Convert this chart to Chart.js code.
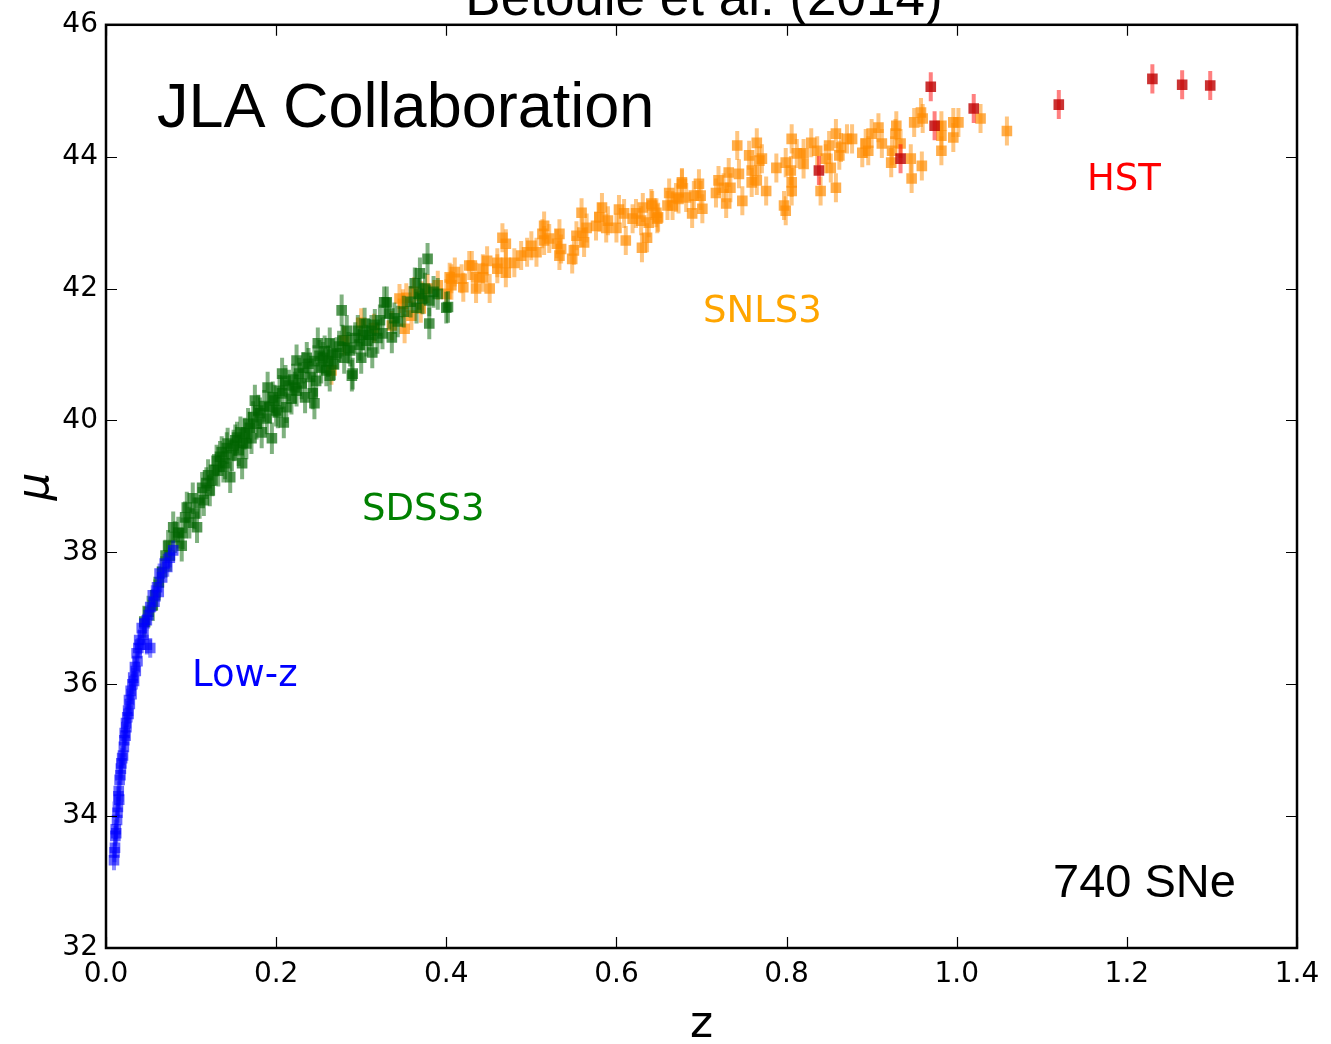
<!DOCTYPE html>
<html>
<head>
<meta charset="utf-8">
<title>JLA Hubble diagram</title>
<script src="https://cdn.jsdelivr.net/npm/chart.js@4.4.1/dist/chart.umd.min.js"></script>
<style>
  html, body { margin: 0; padding: 0; background: #fff; }
  #wrap { width: 1331px; height: 1044px; }
</style>
</head>
<body>
<div id="wrap"><canvas id="hubble" width="1331" height="1044"></canvas></div>
<script>
// ==================== DONNEES (z, mu) ====================

const lowz = [
  [0.0094,33.33],[0.0100,33.45],[0.0106,33.52],[0.0110,33.70],[0.0115,33.80],[0.0120,33.74],
  [0.0130,33.94],[0.0135,34.05],[0.0140,34.14],[0.0145,34.30],[0.0150,34.38],[0.0155,34.25],
  [0.0160,34.55],[0.0170,34.62],[0.0175,34.72],[0.0180,34.80],[0.0190,34.88],[0.0200,34.92],
  [0.0210,35.05],[0.0215,35.15],[0.0220,35.26],[0.0230,35.22],[0.0235,35.41],[0.0240,35.35],
  [0.0250,35.50],[0.0260,35.60],[0.0265,35.55],[0.0270,35.76],[0.0280,35.70],[0.0290,35.90],
  [0.0300,35.85],[0.0310,36.00],[0.0320,36.10],[0.0330,36.05],[0.0340,36.26],[0.0350,36.20],
  [0.0360,36.47],[0.0370,36.35],[0.0380,36.55],[0.0390,36.67],[0.0400,36.60],[0.0420,36.85],
  [0.0440,36.75],[0.0450,36.92],[0.0480,36.97],[0.0480,36.60],[0.0500,37.05],[0.0520,37.17],
  [0.0520,36.55],[0.0550,37.35],[0.0570,37.25],[0.0600,37.47],[0.0620,37.40],[0.0630,37.68],
  [0.0660,37.62],[0.0690,37.83],[0.0720,37.78],[0.0750,37.92],[0.0790,38.03]
];

const sdss = [
  [0.045,36.95],[0.050,37.10],[0.055,37.20],[0.058,37.35],[0.062,37.55],[0.066,37.70],
  [0.070,37.95],[0.073,38.10],[0.075,37.95],[0.079,38.38],[0.081,38.23],[0.085,38.30],
  [0.089,38.10],[0.090,38.29],[0.093,38.53],[0.095,38.68],[0.098,38.45],[0.102,38.82],
  [0.104,38.59],[0.107,38.38],[0.110,38.75],[0.113,38.98],[0.115,38.79],[0.118,39.05],
  [0.120,39.17],[0.122,38.94],[0.125,39.09],[0.127,39.25],[0.130,39.39],[0.132,39.24],
  [0.134,39.45],[0.136,39.52],[0.138,39.30],[0.140,39.35],[0.142,39.58],[0.143,39.65],
  [0.146,39.14],[0.148,39.47],[0.150,39.62],[0.152,39.70],[0.154,39.74],[0.156,39.55],
  [0.158,39.82],[0.160,39.35],[0.161,39.66],[0.163,39.80],[0.165,39.65],[0.167,39.95],
  [0.169,39.89],[0.171,39.73],[0.173,40.05],[0.175,40.30],[0.177,39.95],[0.179,40.15],
  [0.181,40.11],[0.183,39.82],[0.186,40.22],[0.189,40.03],[0.190,40.50],[0.192,40.20],
  [0.195,39.73],[0.196,40.35],[0.198,40.30],[0.200,40.15],[0.202,40.12],[0.204,40.45],
  [0.207,40.41],[0.207,40.71],[0.209,39.97],[0.211,40.60],[0.212,40.20],[0.215,40.53],
  [0.218,40.33],[0.220,40.62],[0.222,40.50],[0.224,40.45],[0.224,40.91],[0.227,40.71],
  [0.230,40.56],[0.232,40.80],[0.234,40.35],[0.236,40.95],[0.238,40.86],[0.240,40.66],
  [0.243,40.41],[0.245,40.26],[0.245,40.90],[0.247,40.60],[0.249,41.17],[0.251,40.98],
  [0.253,40.80],[0.255,40.95],[0.257,41.05],[0.259,40.76],[0.261,40.90],[0.263,41.17],
  [0.263,40.68],[0.266,41.00],[0.268,40.85],[0.271,41.02],[0.274,41.12],[0.277,41.67],
  [0.278,41.21],[0.280,40.95],[0.283,41.36],[0.285,41.10],[0.287,41.06],[0.289,40.68],
  [0.290,40.71],[0.293,41.25],[0.296,41.36],[0.298,41.15],[0.300,40.95],[0.302,41.30],
  [0.304,41.47],[0.306,41.21],[0.309,41.30],[0.312,41.36],[0.313,41.03],[0.316,41.45],
  [0.319,41.25],[0.322,41.52],[0.325,41.32],[0.327,41.79],[0.330,41.79],[0.333,41.62],
  [0.336,41.26],[0.339,41.55],[0.343,41.50],[0.350,41.65],[0.358,41.80],[0.363,42.08],
  [0.365,41.71],[0.368,41.92],[0.369,42.23],[0.372,41.85],[0.375,42.00],[0.378,42.45],
  [0.380,41.82],[0.380,41.47],[0.385,41.95],[0.390,41.92],[0.400,41.71],[0.402,41.72]
];

const snls = [
  [0.265,40.76],[0.280,41.21],[0.300,41.48],[0.315,41.40],[0.336,41.44],[0.345,41.85],
  [0.349,41.77],[0.351,41.39],[0.353,41.86],[0.359,41.59],[0.362,41.95],[0.370,41.70],
  [0.371,41.89],[0.378,42.00],[0.390,42.05],[0.400,41.92],[0.404,42.17],[0.406,42.05],
  [0.406,42.15],[0.410,42.25],[0.418,42.15],[0.420,42.02],[0.427,42.35],[0.430,42.35],
  [0.435,42.17],[0.435,42.00],[0.443,42.30],[0.443,42.17],[0.448,42.42],[0.451,42.00],
  [0.460,42.39],[0.460,42.30],[0.466,42.77],[0.470,42.68],[0.470,42.39],[0.470,42.24],
  [0.480,42.39],[0.488,42.50],[0.495,42.55],[0.500,42.65],[0.506,42.55],[0.513,42.83],
  [0.515,42.73],[0.515,42.95],[0.521,42.76],[0.530,42.68],[0.533,42.83],[0.533,42.50],
  [0.535,42.60],[0.548,42.45],[0.550,42.58],[0.553,42.80],[0.559,43.15],[0.560,42.85],
  [0.562,42.70],[0.565,42.92],[0.576,42.95],[0.580,43.08],[0.583,43.23],[0.588,42.92],
  [0.590,43.03],[0.600,42.92],[0.603,43.20],[0.609,43.14],[0.611,42.73],[0.619,43.06],
  [0.623,43.14],[0.629,43.03],[0.630,42.62],[0.631,43.23],[0.636,42.77],[0.638,43.00],
  [0.641,43.29],[0.642,43.26],[0.647,43.15],[0.648,43.06],[0.649,43.08],[0.660,43.26],
  [0.662,43.45],[0.666,43.26],[0.670,43.38],[0.673,43.36],[0.677,43.59],[0.677,43.61],
  [0.682,43.38],[0.689,43.14],[0.691,43.41],[0.697,43.59],[0.699,43.41],[0.701,43.21],
  [0.717,43.45],[0.720,43.64],[0.726,43.53],[0.729,43.29],[0.732,43.76],[0.734,43.53],
  [0.742,44.17],[0.744,43.74],[0.748,43.33],[0.756,44.02],[0.759,43.79],[0.759,43.61],
  [0.765,44.21],[0.765,43.64],[0.768,43.94],[0.771,43.97],[0.776,43.48],[0.788,43.83],
  [0.797,43.26],[0.799,43.18],[0.799,43.91],[0.806,44.27],[0.805,43.79],[0.806,43.61],
  [0.806,43.48],[0.812,44.05],[0.820,44.05],[0.820,43.89],[0.829,44.21],[0.836,44.09],
  [0.840,43.48],[0.846,43.97],[0.850,44.17],[0.852,43.83],[0.858,44.35],[0.858,43.53],
  [0.862,44.02],[0.864,44.14],[0.871,44.27],[0.877,44.27],[0.889,44.06],[0.893,44.20],
  [0.896,44.09],[0.900,44.35],[0.908,44.44],[0.912,44.20],[0.923,43.91],[0.924,44.09],
  [0.928,44.35],[0.929,44.47],[0.934,44.20],[0.946,43.97],[0.947,43.67],[0.950,44.52],
  [0.958,44.67],[0.959,43.86],[0.960,44.58],[0.982,44.47],[0.982,44.32],[0.982,44.09],
  [0.996,44.52],[0.996,44.29],[1.002,44.52],[1.028,44.58],[1.059,44.39]
];

const hst = [
  [0.838,43.79],[0.934,43.97],[0.9695,45.06],[0.974,44.47],[1.020,44.73],
  [1.120,44.79],[1.230,45.18],[1.265,45.09],[1.298,45.08]
];

// erreur typique sur mu pour chaque echantillon
const errLowz = 0.15;
const errSdss = 0.24;
const errSnls = 0.22;
const errHst = 0.22;

const xTicks = [0.0, 0.2, 0.4, 0.6, 0.8, 1.0, 1.2, 1.4];
const yTicks = [32, 34, 36, 38, 40, 42, 44, 46];

// ==================== PLUGIN : barres d'erreur, cadre, textes ====================

const decorPlugin = {
  id: 'decor',
  beforeDatasetDraw(chart, args) {
    const ds = chart.data.datasets[args.index];
    const yScale = chart.scales.y;
    const area = chart.chartArea;
    const ctx = chart.ctx;
    ctx.save();
    ctx.beginPath();
    ctx.rect(area.left, area.top, area.right - area.left, area.bottom - area.top);
    ctx.clip();
    ctx.strokeStyle = ds.barColor;
    ctx.lineWidth = 4;
    ds.data.forEach((p, i) => {
      const el = args.meta.data[i];
      ctx.beginPath();
      ctx.moveTo(el.x, yScale.getPixelForValue(p.y + ds.err));
      ctx.lineTo(el.x, yScale.getPixelForValue(p.y - ds.err));
      ctx.stroke();
    });
    ctx.restore();
  },
  afterDraw(chart) {
    const ctx = chart.ctx;
    const a = chart.chartArea;
    const xs = chart.scales.x, ys = chart.scales.y;
    ctx.save();

    // ticks vers l'interieur sur les quatre cotes
    ctx.strokeStyle = '#000';
    ctx.lineWidth = 1.2;
    xTicks.forEach(v => {
      const px = Math.round(xs.getPixelForValue(v)) + 0.5;
      ctx.beginPath();
      ctx.moveTo(px, a.bottom); ctx.lineTo(px, a.bottom - 11);
      ctx.moveTo(px, a.top); ctx.lineTo(px, a.top + 11);
      ctx.stroke();
    });
    yTicks.forEach(v => {
      const py = Math.round(ys.getPixelForValue(v)) + 0.5;
      ctx.beginPath();
      ctx.moveTo(a.left, py); ctx.lineTo(a.left + 11, py);
      ctx.moveTo(a.right, py); ctx.lineTo(a.right - 11, py);
      ctx.stroke();
    });

    // cadre
    ctx.lineWidth = 2.5;
    ctx.strokeRect(a.left, a.top, a.right - a.left, a.bottom - a.top);

    // titre (coupe en haut comme sur l'original)
    ctx.fillStyle = '#000';
    ctx.textAlign = 'center';
    ctx.textBaseline = 'alphabetic';
    ctx.font = '53px "Liberation Sans", Arial, sans-serif';
    ctx.fillText('Betoule et al. (2014)', 704, 15);

    ctx.textAlign = 'left';
    ctx.font = '63px "Liberation Sans", Arial, sans-serif';
    ctx.fillText('JLA Collaboration', 157, 127);
    ctx.font = '47px "Liberation Sans", Arial, sans-serif';
    ctx.fillText('740 SNe', 1053, 897);

    // etiquettes des echantillons
    ctx.font = '37px "DejaVu Sans", sans-serif';
    ctx.fillStyle = '#0000ff';
    ctx.fillText('Low-z', 192, 686);
    ctx.fillStyle = '#008000';
    ctx.fillText('SDSS3', 362, 520);
    ctx.fillStyle = '#ffa500';
    ctx.fillText('SNLS3', 703, 322);
    ctx.fillStyle = '#ff0000';
    ctx.fillText('HST', 1087, 190);

    // titres des axes
    ctx.fillStyle = '#000';
    ctx.textAlign = 'center';
    ctx.font = '44px "DejaVu Sans", sans-serif';
    ctx.fillText('z', (a.left + a.right) / 2, 1037);
    ctx.translate(48, (a.top + a.bottom) / 2);
    ctx.rotate(-Math.PI / 2);
    ctx.font = 'oblique 44px "DejaVu Sans", sans-serif';
    ctx.fillText('\u03bc', 0, 0);
    ctx.restore();
  }
};

// ==================== GRAPHIQUE ====================

function toPoints(list) {
  return list.map(p => ({ x: p[0], y: p[1] }));
}

function serie(label, list, err, color, barColor) {
  return {
    label: label,
    data: toPoints(list),
    err: err,
    barColor: barColor,
    backgroundColor: color,
    borderWidth: 0,
    pointStyle: 'rect',
    pointRadius: 7.5
  };
}

const ctx = document.getElementById('hubble').getContext('2d');
new Chart(ctx, {
  type: 'scatter',
  data: {
    datasets: [
      serie('HST', hst, errHst, 'rgba(190,0,0,0.8)', 'rgba(255,0,0,0.5)'),
      serie('Low-z', lowz, errLowz, 'rgba(0,0,255,0.6)', 'rgba(0,0,255,0.45)'),
      serie('SDSS3', sdss, errSdss, 'rgba(0,100,0,0.68)', 'rgba(0,100,0,0.5)'),
      serie('SNLS3', snls, errSnls, 'rgba(255,140,0,0.7)', 'rgba(255,140,0,0.5)')
    ]
  },
  options: {
    responsive: false,
    animation: false,
    devicePixelRatio: 1,
    layout: { padding: { top: 24, right: 34, left: 0, bottom: 0 } },
    plugins: {
      legend: { display: false },
      tooltip: { enabled: false }
    },
    scales: {
      x: {
        type: 'linear',
        min: 0,
        max: 1.4,
        afterFit: s => { s.height = 96; },
        afterBuildTicks: s => { s.ticks = xTicks.map(v => ({ value: v })); },
        grid: { display: false, drawTicks: false },
        border: { display: false },
        ticks: {
          autoSkip: false,
          maxRotation: 0,
          padding: 10,
          color: '#000',
          font: { family: 'DejaVu Sans', size: 28 },
          callback: v => Number(v).toFixed(1)
        }
      },
      y: {
        type: 'linear',
        min: 32,
        max: 46,
        afterFit: s => { s.width = 106; },
        afterBuildTicks: s => { s.ticks = yTicks.map(v => ({ value: v })); },
        grid: { display: false, drawTicks: false },
        border: { display: false },
        ticks: {
          autoSkip: false,
          padding: 8,
          color: '#000',
          font: { family: 'DejaVu Sans', size: 28 },
          callback: v => String(v)
        }
      }
    }
  },
  plugins: [decorPlugin]
});
</script>
</body>
</html>
